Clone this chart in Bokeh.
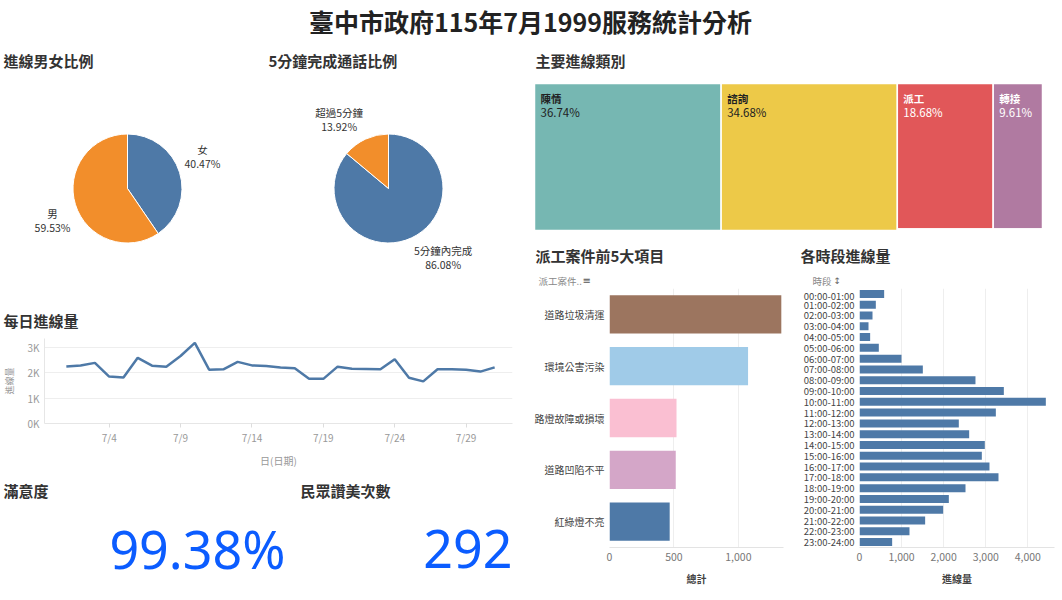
import math
import numpy as np
from bokeh.core.properties import value
from bokeh.embed import file_html
from bokeh.layouts import column, row
from bokeh.models import FactorRange, FixedTicker, NumeralTickFormatter
from bokeh.plotting import figure
from bokeh.resources import INLINE

CJK = "Noto Sans CJK TC"

# data
gender_labels = ["女", "男"]
gender_pct = [40.47, 59.53]
call_labels = ["5分鐘內完成", "超過5分鐘"]
call_pct = [86.08, 13.92]
pie_colors = ["#4e79a7", "#f28e2b"]

days = list(range(1, 32))
daily_calls = [2250, 2290, 2390, 1850, 1810, 2590, 2280, 2240, 2660, 3180,
               2120, 2135, 2430, 2290, 2265, 2210, 2175, 1760, 1760, 2240,
               2160, 2150, 2135, 2535, 1800, 1660, 2135, 2135, 2120, 2045, 2210]
day_ticks = [4, 9, 14, 19, 24, 29]

type_labels = ["陳情", "諮詢", "派工", "轉接", "其他"]
type_pct = [36.74, 34.68, 18.68, 9.61, 0.29]
type_colors = ["#76b7b2", "#edc948", "#e15759", "#b07aa1", "#8cd17d"]
type_text_colors = ["#222222", "#222222", "#ffffff", "#ffffff"]

dispatch_items = ["道路垃圾清運", "環境公害污染", "路燈故障或損壞", "道路凹陷不平", "紅綠燈不亮"]
dispatch_totals = [1333, 1075, 520, 514, 467]
dispatch_colors = ["#9c755f", "#a0cbe8", "#fabfd2", "#d4a6c8", "#4e79a7"]

hour_labels = ["00:00-01:00", "01:00-02:00", "02:00-03:00", "03:00-04:00",
               "04:00-05:00", "05:00-06:00", "06:00-07:00", "07:00-08:00",
               "08:00-09:00", "09:00-10:00", "10:00-11:00", "11:00-12:00",
               "12:00-13:00", "13:00-14:00", "14:00-15:00", "15:00-16:00",
               "16:00-17:00", "17:00-18:00", "18:00-19:00", "19:00-20:00",
               "20:00-21:00", "21:00-22:00", "22:00-23:00", "23:00-24:00"]
hour_calls = [586, 388, 309, 214, 253, 459, 998, 1505, 2756, 3430, 4428, 3240,
              2360, 2606, 2978, 2907, 3089, 3303, 2519, 2123, 1988, 1560, 1188, 776]

satisfaction_pct = 99.38
praise_count = 292


def blank(w, h, x_range=None, y_range=None):
    p = figure(width=w, height=h, x_range=x_range or (0, w), y_range=y_range or (0, h),
               x_axis_location=None, y_axis_location=None, toolbar_location=None,
               output_backend="svg", min_border=0, outline_line_color=None, title=None)
    p.grid.visible = False
    return p


def label(p, x, y, text, size, color="#333333", bold=False, align="left",
          baseline="middle", font=CJK):
    p.text(x=[x], y=[y], text=[text], text_font=value(font), text_font_size=size,
           text_color=color, text_font_style="bold" if bold else "normal",
           text_align=align, text_baseline=baseline)


def text_w(s, size):
    return sum(size if ord(c) > 0x2E80 else 0.56 * size for c in s)


# main title
head = blank(1062, 42)
label(head, 530, 22, "臺中市政府115年7月1999服務統計分析", "25px", "#222222",
      bold=True, align="center")


def pie(title, labels, pcts, W, cx):
    H, cy = 258, 112
    p = blank(W, H, (-cx, W - cx), (-cy, H - cy))
    label(p, 3 - cx, H - 18 - cy, title, "15px", bold=True)
    fr = np.array(pcts) / 100
    ends = np.cumsum(fr)
    starts = ends - fr
    p.wedge(x=0, y=0, radius=54.5, start_angle=math.pi / 2 - 2 * math.pi * starts,
            end_angle=math.pi / 2 - 2 * math.pi * ends, direction="clock",
            fill_color=pie_colors, line_color="white", line_width=1)
    for name, v, s, e in zip(labels, pcts, starts, ends):
        mid = math.pi * (s + e)
        ax, ay = 60 * math.sin(mid), 60 * math.cos(mid)
        pct = f"{v:.2f}%"
        w = max(text_w(name, 10.5), text_w(pct, 10.5))
        bx = ax + (w / 2 if ax > 0 else -w / 2)
        if ay > 0:
            label(p, bx, ay + 14, name, "10.5px", align="center", baseline="bottom")
            label(p, bx, ay, pct, "10.5px", align="center", baseline="bottom")
        else:
            label(p, bx, ay, name, "10.5px", align="center", baseline="top")
            label(p, bx, ay - 14, pct, "10.5px", align="center", baseline="top")
    return p


pie1 = pie("進線男女比例", gender_labels, gender_pct, 265, 127)
pie2 = pie("5分鐘完成通話比例", call_labels, call_pct, 265, 123)

# daily line
line_head = blank(530, 38)
label(line_head, 3, 18, "每日進線量", "15px", bold=True)

line = figure(width=530, height=132, x_range=(-0.53, 32.25), y_range=(0, 3350),
              toolbar_location=None, output_backend="svg", title=None,
              min_border_left=40, min_border_right=18, min_border_top=0,
              min_border_bottom=45, outline_line_color=None)
line.line(days, daily_calls, line_color="#4e79a7", line_width=2.5)
line.xaxis.ticker = FixedTicker(ticks=day_ticks)
line.xaxis.major_label_overrides = {d: f"7/{d}" for d in day_ticks}
line.yaxis.ticker = FixedTicker(ticks=[0, 1000, 2000, 3000])
line.yaxis.major_label_overrides = {0: "0K", 1000: "1K", 2000: "2K", 3000: "3K"}
line.xaxis.axis_label = "日(日期)"
line.yaxis.axis_label = "進線量"
line.axis.major_label_text_font = CJK
line.axis.major_label_text_font_size = "10px"
line.axis.major_label_text_color = "#999999"
line.axis.axis_label_text_font = CJK
line.axis.axis_label_text_font_style = "normal"
line.axis.axis_label_text_color = "#999999"
line.xaxis.axis_label_text_font_size = "10px"
line.yaxis.axis_label_text_font_size = "9px"
line.axis.minor_tick_line_color = None
line.axis.major_tick_in = 0
line.xaxis.major_tick_out = 4
line.yaxis.major_tick_out = 0
line.axis.major_tick_line_color = "#dddddd"
line.axis.axis_line_color = "#e6e6e6"
line.xaxis.major_label_standoff = 2
line.yaxis.major_label_standoff = 5
line.xaxis.axis_label_standoff = 5
line.yaxis.axis_label_standoff = 8
line.xgrid.visible = False
line.ygrid.grid_line_color = "#eeeeee"

# KPI tiles
kpi1 = blank(295, 130)
label(kpi1, 3, 110, "滿意度", "15px", bold=True)
label(kpi1, 285, 52, f"{satisfaction_pct:.2f}%", "52px", "#0b5cff", align="right",
      font="Noto Sans")
kpi2 = blank(235, 130)
label(kpi2, 5, 110, "民眾讚美次數", "15px", bold=True)
label(kpi2, 217, 52, str(praise_count), "52px", "#0b5cff", align="right",
      font="Noto Sans")

# treemap of call types (x in percent, y in share of height)
TW, TH, tx0, tpx, ty0, tpy = 532, 198, 4, 5.08, 10, 147
tree = blank(TW, TH, (-tx0 / tpx, (TW - tx0) / tpx), (-ty0 / tpy, (TH - ty0) / tpy))
label(tree, (5 - tx0) / tpx, (TH - 18 - ty0) / tpy, "主要進線類別", "15px", bold=True)
lefts, rights, bottoms, tops = [], [], [], []
x = 0.0
for v in type_pct[:2]:
    lefts.append(x); rights.append(x + v); bottoms.append(0); tops.append(1)
    x += v
group = type_pct[2:]
gw = sum(group)
strip = group[-1] / gw
gx = x
for v in group[:-1]:
    w = v / (1 - strip)
    lefts.append(gx); rights.append(gx + w); bottoms.append(strip); tops.append(1)
    gx += w
lefts.append(x); rights.append(x + gw); bottoms.append(0); tops.append(strip)
tree.quad(left=lefts, right=rights, bottom=bottoms, top=tops, fill_color=type_colors,
          line_color="white", line_width=1.5)
n = len(type_text_colors)
tree.text(x=lefts[:n], y=tops[:n], text=type_labels[:n], x_offset=6, y_offset=7,
          text_font=value(CJK), text_font_size="10.5px", text_font_style="bold",
          text_color=type_text_colors, text_baseline="top")
tree.text(x=lefts[:n], y=tops[:n], text=[f"{v:.2f}%" for v in type_pct[:n]],
          x_offset=6, y_offset=20, text_font=value(CJK), text_font_size="11.5px",
          text_color=type_text_colors, text_baseline="top")

# top 5 dispatch items
bar_head = blank(255, 48)
label(bar_head, 5, 33, "派工案件前5大項目", "15px", bold=True)
label(bar_head, 8, 8, "派工案件..", "9.5px", "#888888")
label(bar_head, 52, 8, "≡", "10px", "#555555", font="DejaVu Sans")

bar = figure(width=255, height=312, y_range=FactorRange(factors=dispatch_items[::-1]),
             x_range=(0, 1350), toolbar_location=None, output_backend="svg", title=None,
             min_border_left=79, min_border_right=2, min_border_top=0,
             min_border_bottom=53, outline_line_color=None)
bar.hbar(y=dispatch_items, right=dispatch_totals, left=0, height=0.74,
         fill_color=dispatch_colors, line_color=None)
bar.xaxis.ticker = FixedTicker(ticks=[0, 500, 1000])
bar.xaxis.axis_label = "總計"

# calls per hour
hour_head = blank(277, 48)
label(hour_head, 15, 33, "各時段進線量", "15px", bold=True)
label(hour_head, 27, 8, "時段", "9.5px", "#888888")
label(hour_head, 48, 8, "↕", "9px", "#666666", font="DejaVu Sans")

hour = figure(width=277, height=312, y_range=FactorRange(factors=hour_labels[::-1]),
              x_range=(0, 4634), toolbar_location=None, output_backend="svg", title=None,
              min_border_left=74, min_border_right=8, min_border_top=0,
              min_border_bottom=53, outline_line_color=None)
hour.hbar(y=hour_labels, right=hour_calls, left=0, height=0.74,
          fill_color="#4e79a7", line_color=None)
hour.xaxis.ticker = FixedTicker(ticks=[0, 1000, 2000, 3000, 4000])
hour.xaxis.axis_label = "進線量"

for p, ysize in ((bar, "10px"), (hour, "9.5px")):
    p.xaxis.formatter = NumeralTickFormatter(format="0,0")
    p.axis.major_label_text_font = CJK
    p.xaxis.major_label_text_font_size = "10.5px"
    p.xaxis.major_label_text_color = "#777777"
    p.yaxis.major_label_text_font_size = ysize
    p.yaxis.major_label_text_color = "#444444"
    p.axis.major_tick_out = 0
    p.axis.major_tick_in = 0
    p.axis.minor_tick_line_color = None
    p.yaxis.axis_line_color = None
    p.xaxis.axis_line_color = "#e3e3e3"
    p.axis.major_label_standoff = 5
    p.xaxis.axis_label_text_font = CJK
    p.xaxis.axis_label_text_font_size = "10px"
    p.xaxis.axis_label_text_font_style = "bold"
    p.xaxis.axis_label_text_color = "#444444"
    p.xaxis.axis_label_standoff = 7
    p.ygrid.visible = False
    p.xgrid.grid_line_color = "#eeeeee"

# head figures sit in their own rows so the column does not line their frames up
left_col = column(row(pie1, pie2), row(line_head), line, row(kpi1, kpi2))
right_col = column(tree, row(column(row(bar_head), bar), column(row(hour_head), hour)))
page = column(head, row(left_col, right_col))

open("out.html", "w", encoding="utf-8").write(file_html(page, INLINE, "1999服務統計分析"))
